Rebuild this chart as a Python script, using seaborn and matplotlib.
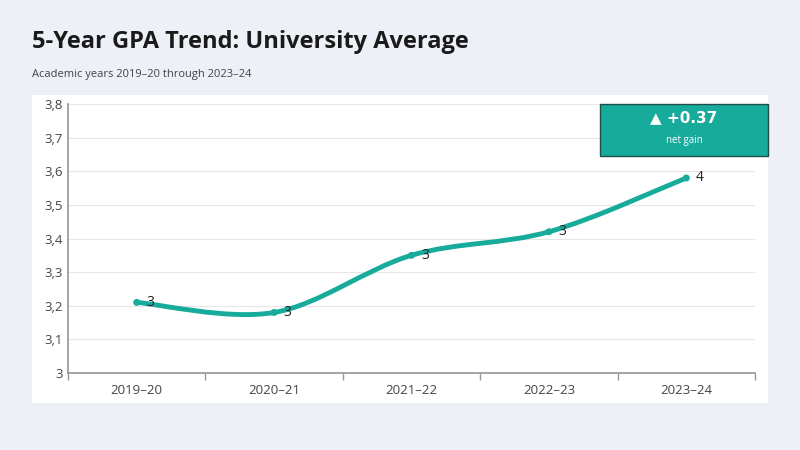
import matplotlib
matplotlib.use("Agg")
import matplotlib.pyplot as plt
import seaborn as sns
import numpy as np
from matplotlib.path import Path
from matplotlib.patches import PathPatch, Rectangle
from matplotlib.ticker import FuncFormatter

years = ["2019–20", "2020–21", "2021–22", "2022–23", "2023–24"]
gpa = [3.21, 3.18, 3.35, 3.42, 3.58]
net_gain = "+0.37"
teal = "#17ab9b"

sns.set_theme(style="white")
plt.rcParams['font.family'] = ['Open Sans', 'DejaVu Sans']
fig = plt.figure(figsize=(8, 4.5), dpi=100)
fig.patch.set_facecolor("#eef0f8")
bg = fig.add_axes([32/800, 1-403/450, 736/800, 308/450], zorder=-1)
bg.set_facecolor("white"); bg.set_xticks([]); bg.set_yticks([])
for s in bg.spines.values(): s.set_visible(False)
ax = fig.add_axes([68/800, 1-373/450, 687/800, 269/450], zorder=1)
ax.set_facecolor("none")
x = np.arange(len(years))

pts = np.column_stack([x, gpa]).astype(float)
verts = [tuple(pts[0])]; codes = [Path.MOVETO]
for i in range(len(pts)-1):
    p0 = pts[i-1] if i > 0 else pts[i]
    p3 = pts[i+2] if i+2 < len(pts) else pts[i+1]
    p1, p2 = pts[i], pts[i+1]
    c1 = p1 + (p2-p0)/6; c2 = p2 - (p3-p1)/6
    verts += [tuple(c1), tuple(c2), tuple(p2)]; codes += [Path.CURVE4]*3
ax.add_patch(PathPatch(Path(verts, codes), facecolor="none", edgecolor=teal, lw=3.5, zorder=3, capstyle="round"))
sns.scatterplot(x=x, y=gpa, ax=ax, color=teal, s=25, edgecolor="none", zorder=4)
for xi, v in zip(x, gpa):
    ax.text(xi+0.07, v, f"{round(v):d}", va="center", ha="left", fontsize=10, color="#222", zorder=5)

ax.set_xlim(-0.5, 4.5); ax.set_ylim(3, 3.8)
ax.set_yticks(np.arange(3, 3.81, 0.1))
ax.yaxis.set_major_formatter(FuncFormatter(lambda v, p: ("%g" % round(v, 1)).replace(".", ",")))
ax.set_xticks(x); ax.set_xticklabels(years)
ax.set_xticks(np.arange(-0.5, 4.6, 1), minor=True)
ax.tick_params(axis="x", which="major", length=0, labelsize=9.5, colors="#444", pad=8)
ax.tick_params(axis="x", which="minor", length=5, color="#999", bottom=True)
ax.tick_params(axis="y", labelsize=9.5, colors="#444", length=0)
ax.grid(axis="y", color="#e6e6e6", lw=0.8)
for s in ["top", "right"]: ax.spines[s].set_visible(False)
ax.spines["left"].set_color("#999"); ax.spines["bottom"].set_color("#999")

fig.patches.append(Rectangle((600/800, 1-156/450), 168/800, 52/450, transform=fig.transFigure,
                             facecolor=teal, edgecolor="#1f4e4a", lw=1, zorder=6))
fig.text(684/800, 1-118/450, "▲ " + net_gain, ha="center", va="center", color="white",
         fontsize=11, fontweight="bold", zorder=7, family=['DejaVu Sans'])
fig.text(684/800, 1-140/450, "net gain", ha="center", va="center", color="white", fontsize=7, zorder=7)

fig.text(32/800, 1-42/450, "5-Year GPA Trend: University Average", fontsize=17, fontweight="bold",
         color="#1a1a1a", va="center")
fig.text(32/800, 1-75/450, "Academic years 2019–20 through 2023–24", fontsize=8, color="#444", va="center")
fig.savefig("out.png", dpi=100)
